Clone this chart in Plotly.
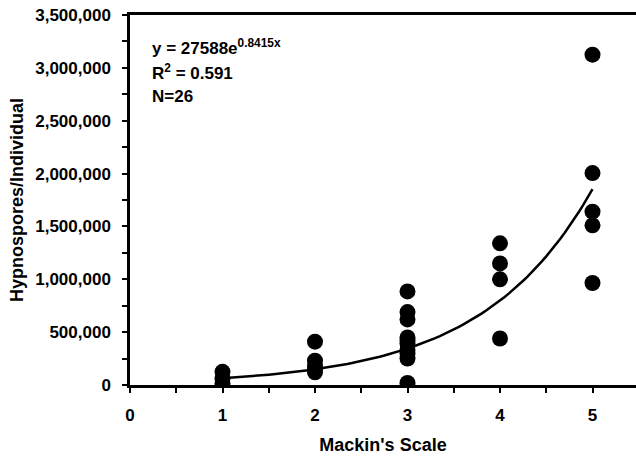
import numpy as np
import plotly.graph_objects as go

# Data
scale_x = [1, 1, 1,
           2, 2, 2, 2, 2,
           3, 3, 3, 3, 3, 3, 3, 3, 3, 3,
           4, 4, 4, 4,
           5, 5, 5, 5, 5]
hypnospores = [125000, 60000, 15000,
               410000, 230000, 180000, 150000, 120000,
               885000, 690000, 620000, 450000, 425000, 390000, 330000, 300000, 250000, 20000,
               1340000, 1150000, 1000000, 440000,
               3125000, 2005000, 1640000, 1510000, 965000]

# Trendline as printed on the chart
fit_a = 27588
fit_b = 0.8415
fit_x = np.linspace(1, 5, 81)
fit_y = fit_a * np.exp(fit_b * fit_x)

eq_text = "y = 27588e<sup>0.8415x</sup>"
r2_text = "R<sup>2</sup> = 0.591"
n_text = "N=26"

FONT = "Liberation Sans, Arial, sans-serif"

fig = go.Figure()
fig.add_trace(go.Scatter(x=fit_x, y=fit_y, mode="lines",
                         line=dict(color="black", width=2.5),
                         showlegend=False, hoverinfo="skip"))
fig.add_trace(go.Scatter(x=scale_x, y=hypnospores, mode="markers",
                         marker=dict(color="black", size=16, line=dict(width=0)),
                         showlegend=False))

fig.update_layout(
    width=636, height=459,
    margin=dict(l=130, r=0, t=15, b=74),
    paper_bgcolor="white", plot_bgcolor="white",
    font=dict(family=FONT, color="black", size=17, weight="bold"),
    xaxis=dict(
        range=[0, 506 / 92.5], tickmode="linear", tick0=0, dtick=1,
        ticks="outside", ticklen=5, tickwidth=2, tickcolor="black",
        showline=True, linecolor="black", linewidth=2.5, mirror=True,
        showgrid=False, zeroline=False,
        minor=dict(dtick=0.5, ticks="outside", ticklen=5, tickwidth=2, tickcolor="black"),
        tickfont=dict(size=17, weight="bold"),
        ticklabelstandoff=8,
        title=dict(text="Mackin's Scale", font=dict(size=18, weight="bold"), standoff=15),
    ),
    yaxis=dict(
        range=[0, 3500000], tickmode="linear", tick0=0, dtick=500000,
        tickformat=",d",
        ticks="outside", ticklen=5, tickwidth=2, tickcolor="black",
        showline=True, linecolor="black", linewidth=2.5,
        showgrid=False, zeroline=False,
        minor=dict(dtick=250000, ticks="outside", ticklen=5, tickwidth=2, tickcolor="black"),
        tickfont=dict(size=17, weight="bold"),
        ticklabelstandoff=8,
        title=dict(text="Hypnospores/Individual", font=dict(size=18, weight="bold"), standoff=7),
    ),
    annotations=[
        dict(text=eq_text, xref="paper", yref="paper", x=0.04, y=(385 - 47) / 370,
             xanchor="left", yanchor="middle", showarrow=False,
             font=dict(size=17, weight="bold")),
        dict(text=r2_text, xref="paper", yref="paper", x=0.04, y=(385 - 72) / 370,
             xanchor="left", yanchor="middle", showarrow=False,
             font=dict(size=17, weight="bold")),
        dict(text=n_text, xref="paper", yref="paper", x=0.04, y=(385 - 96) / 370,
             xanchor="left", yanchor="middle", showarrow=False,
             font=dict(size=17, weight="bold")),
    ],
)

fig.write_html("out.html")
